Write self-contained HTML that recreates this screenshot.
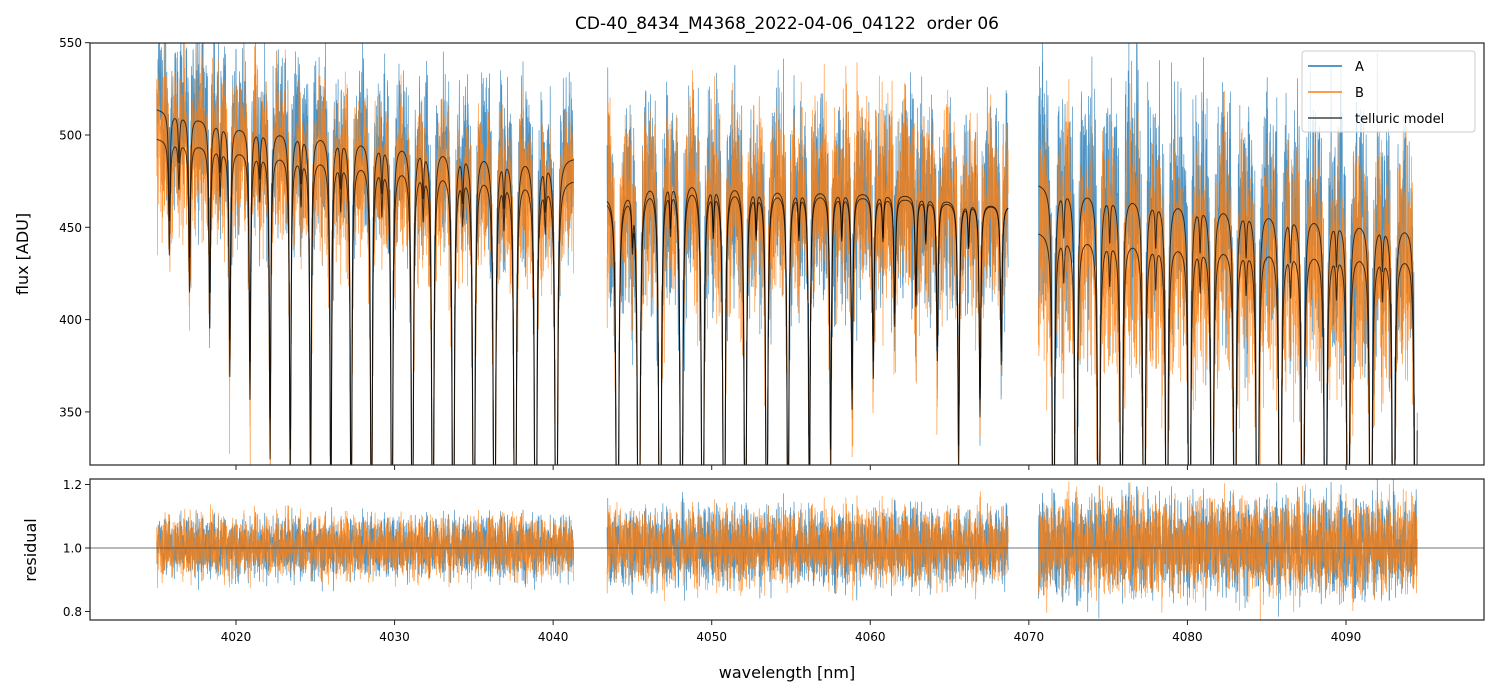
<!DOCTYPE html>
<html><head><meta charset="utf-8"><style>
html,body{margin:0;padding:0;background:#fff;overflow:hidden;width:1499px;height:696px}
svg{display:block}
svg text{font-family:"DejaVu Sans","Liberation Sans",sans-serif;fill:#000;white-space:pre}
</style></head><body>
<svg id="c" width="1499" height="696">
<defs>
<clipPath id="ct"><rect x="90" y="43" width="1394" height="422"/></clipPath>
<clipPath id="cb"><rect x="90" y="479" width="1394" height="141"/></clipPath>
</defs>
<rect x="0" y="0" width="1499" height="696" fill="#fff"/>
<text x="787" y="29" font-size="17" text-anchor="middle">CD-40_8434_M4368_2022-04-06_04122  order 06</text>
<g id="topPanel" clip-path="url(#ct)"></g>
<g id="botPanel" clip-path="url(#cb)"></g>
<g id="axes"></g>
<text transform="translate(28,254) rotate(-90)" font-size="16" text-anchor="middle">flux [ADU]</text>
<text transform="translate(36,550) rotate(-90)" font-size="16" text-anchor="middle">residual</text>
<text x="787" y="678" font-size="16" text-anchor="middle">wavelength [nm]</text>
<g id="legendG">
<rect x="1302" y="51" width="173" height="81" rx="3" fill="#fff" fill-opacity="0.8" stroke="#ccc"/>
<line x1="1308" y1="66" x2="1342" y2="66" stroke="#1f77b4" stroke-width="1.5"/>
<text x="1355" y="71" font-size="13">A</text>
<line x1="1308" y1="92" x2="1342" y2="92" stroke="#ff7f0e" stroke-width="1.5"/>
<text x="1355" y="97" font-size="13">B</text>
<line x1="1308" y1="118" x2="1342" y2="118" stroke="#444" stroke-width="1.5"/>
<text x="1355" y="123" font-size="13">telluric model</text>
</g>
</svg>
<script>
const segments=[[4015.0,4041.3],[4043.4,4068.7],[4070.6,4094.5]];
const lineCenters=[4015.8,4017.07,4018.34,4019.61,4020.88,4022.15,4023.42,4024.70,4025.98,4027.26,4028.54,4029.83,4031.12,4032.41,4033.70,4035.00,4036.30,4037.60,4038.90,4040.20,
4044.05,4045.40,4046.74,4048.09,4049.43,4050.78,4052.12,4053.47,4054.81,4056.16,4057.50,4058.85,4060.19,4061.54,4062.88,4064.23,4065.57,4066.92,4068.26,
4071.55,4072.98,4074.41,4075.84,4077.27,4078.70,4080.13,4081.56,4082.99,4084.42,4085.85,4087.28,4088.71,4090.14,4091.57,4093.0,4094.4];
const lineDepths=[0.1,0.13,0.16,0.2,0.22,0.27,0.3,0.32,0.35,0.4,0.44,0.48,0.52,0.56,0.6,0.63,0.66,0.7,0.72,0.75,
0.8,0.78,0.75,0.72,0.68,0.62,0.56,0.5,0.42,0.32,0.26,0.2,0.17,0.12,0.1,0.15,0.25,0.2,0.15,
0.6,0.62,0.62,0.64,0.65,0.66,0.66,0.68,0.68,0.7,0.7,0.7,0.72,0.72,0.72,0.72,0.72];
const weakLines=[4016.4,4019.0,4021.5,4024.1,4026.6,4029.2,4031.8,4034.3,4036.9,4039.5,4045.0,4047.4,4050.1,4052.8,4055.5,4058.2,4060.8,4063.5,4066.2,4072.2,4075.1,4078.0,4080.8,4083.7,4086.5,4089.4,4092.3];
const contX=[4015,4020,4030,4041.3,4043.4,4047,4055,4062,4068.7,4070.6,4080,4094.5];
const contUpper=[514,505,497,488,468,480,472,468,462,474,465,452];
const contLower=[498,492,484,476,466,476,470,466,462,448,442,436];
const noise=[0.12,-0.55,0.83,-0.21,0.47,-0.92,0.05,0.66,-0.38,0.29,-0.74,0.91,-0.12,0.38,-0.63,0.17,0.78,-0.45,-0.05,0.57,-0.86,0.24,0.69,-0.31,0.02,-0.68,0.44,0.95,-0.18,-0.51,0.33,-0.97,0.61,0.08,-0.27,0.72,-0.59,0.15,0.49,-0.81,0.26,-0.09,0.87,-0.42,0.63,-0.24,0.1,-0.7,0.54,0.36,-0.15,-0.88,0.75,-0.35,0.21,0.99,-0.62,0.04,-0.47,0.68,-0.29,0.41,-0.77,0.19];
const noiseScale=[0.12,0.15,0.19];
const yTicksTop=[350,400,450,500,550];
const yTicksBot=[0.8,1.0,1.2];
const xTicks=[4020,4030,4040,4050,4060,4070,4080,4090];

const X=w=>236+(w-4020)*15.857;
const YT=v=>Math.max(40,Math.min(468,135+(500-v)*1.846));
const YB=v=>Math.max(476,Math.min(623,548-(v-1)*317.5));
const NS="http://www.w3.org/2000/svg";
function mk(t,a,p){const e=document.createElementNS(NS,t);for(const k in a)e.setAttribute(k,a[k]);p.appendChild(e);return e;}
function cont(arr,w){for(let i=0;i<contX.length-1;i++){if(w<=contX[i+1]||i==contX.length-2){const t=(w-contX[i])/(contX[i+1]-contX[i]);return arr[i]+(arr[i+1]-arr[i])*Math.max(0,Math.min(1,t));}}}
function trans(w,scale){let f=1;for(let i=0;i<lineCenters.length;i++){const d=(w-lineCenters[i])/0.06;if(Math.abs(d)<40)f*=1-Math.min(0.98,scale*lineDepths[i])/(1+d*d);}
for(const c of weakLines){const d=(w-c)/0.05;if(Math.abs(d)<20)f*=1-0.05/(1+d*d);}return f;}
const topG=document.getElementById('topPanel'),botG=document.getElementById('botPanel'),axes=document.getElementById('axes');
const step=0.011;
let pA='',pB='',mUp='',mLo='',rAp='',rBp='';
let idx=0;
segments.forEach((s,si)=>{let first=true;
 for(let w=s[0];w<=s[1];w+=step,idx++){
  const mU=cont(contUpper,w)*trans(w,1.15),mL=cont(contLower,w)*trans(w,1.25);
  const nA=noise[(idx*17)%64]*0.55+noise[(idx*5+3)%61]*0.4+noise[(idx*11+7)%53]*0.3;
  const nB=noise[(idx*23+11)%64]*0.55+noise[(idx*7+29)%59]*0.4+noise[(idx*13+2)%47]*0.3;
  const rA=1+nA*noiseScale[si],rB=1+nB*noiseScale[si];
  const fA=mU*rA,fB=mL*rB;
  const c=first?'M':'L';const x=X(w).toFixed(2);
  pA+=c+x+','+YT(fA).toFixed(1);pB+=c+x+','+YT(fB).toFixed(1);
  rAp+=c+x+','+YB(rA).toFixed(1);rBp+=c+x+','+YB(rB).toFixed(1);
  mUp+=c+x+','+YT(mU).toFixed(1);mLo+=c+x+','+YT(mL).toFixed(1);
  first=false;}
});
let e;
e=mk('path',{d:pA,fill:'none',stroke:'#1f77b4','stroke-width':0.7,'stroke-opacity':0.8},topG);


e=mk('path',{d:pB,fill:'none',stroke:'#ff7f0e','stroke-width':0.7,'stroke-opacity':0.8},topG);


e=mk('path',{d:mUp,fill:'none',stroke:'#000','stroke-width':1,'stroke-opacity':0.7},topG);


e=mk('path',{d:mLo,fill:'none',stroke:'#000','stroke-width':1,'stroke-opacity':0.7},topG);


e=mk('path',{d:rAp,fill:'none',stroke:'#1f77b4','stroke-width':0.7,'stroke-opacity':0.8},botG);


e=mk('path',{d:rBp,fill:'none',stroke:'#ff7f0e','stroke-width':0.7,'stroke-opacity':0.8},botG);


e=mk('line',{x1:90,x2:1484,y1:YB(1),y2:YB(1),stroke:'#444','stroke-width':0.7},botG);


e=mk('rect',{x:90,y:43,width:1394,height:422,fill:'none',stroke:'#222','stroke-width':1.2},axes);


e=mk('rect',{x:90,y:479,width:1394,height:141,fill:'none',stroke:'#222','stroke-width':1.2},axes);


xTicks.forEach(t=>{const x=X(t);
 mk('line',{x1:x,x2:x,y1:465,y2:470,stroke:'#222'},axes);
 mk('line',{x1:x,x2:x,y1:620,y2:625,stroke:'#222'},axes);
 const tx=mk('text',{x:x,y:641,'font-size':12,'text-anchor':'middle'},axes);tx.textContent=t;
 
 
});
yTicksTop.forEach(t=>{const y=YT(t);
 mk('line',{x1:85,x2:90,y1:y,y2:y,stroke:'#222'},axes);
 const tx=mk('text',{x:82,y:y+4.5,'font-size':12,'text-anchor':'end'},axes);tx.textContent=t;
 
 
});
yTicksBot.forEach(t=>{const y=YB(t);
 mk('line',{x1:85,x2:90,y1:y,y2:y,stroke:'#222'},axes);
 const tx=mk('text',{x:82,y:y+4.5,'font-size':12,'text-anchor':'end'},axes);tx.textContent=t.toFixed(1);
 
 
});
</script>
</body></html>
